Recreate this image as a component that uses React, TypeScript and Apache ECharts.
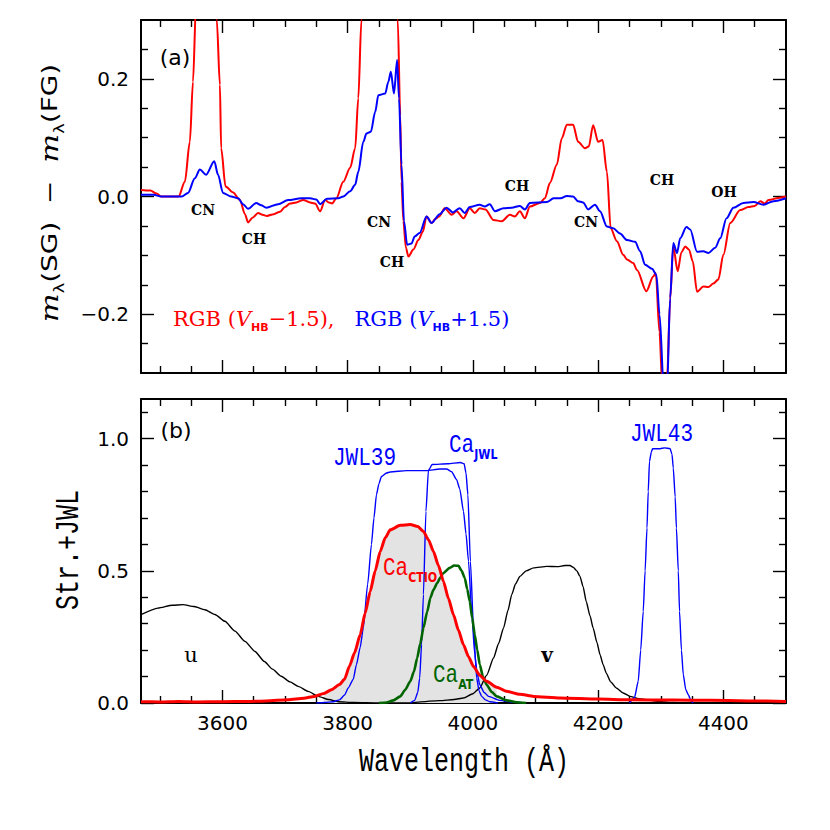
import React, { useEffect, useRef } from 'react';
import * as echarts from 'echarts';

// ---------------- axis ranges and ticks ----------------
const X_MIN = 3470;
const X_MAX = 4500;
const xMajorTicks = [3600, 3800, 4000, 4200, 4400];
const xMinorTicks = [3500, 3550, 3650, 3700, 3750, 3850, 3900, 3950, 4050, 4100, 4150, 4250, 4300, 4350, 4450];
const topYMajor = [-0.2, 0, 0.2];
const topYMinor = [-0.25, -0.15, -0.1, -0.05, 0.05, 0.1, 0.15, 0.25];
const botYMajor = [0, 0.5, 1.0];
const botYMinor = [0.1, 0.2, 0.3, 0.4, 0.6, 0.7, 0.8, 0.9, 1.1];

// ---------------- panel (a): magnitude differences ----------------
const redWl = [3470,3485,3495,3502,3530,3540,3548,3553,3558,3562,3575,3587,3591,3596,3598,3605,3617,3628,3636,3641,3648,3657,3664,3671,3682,3692,3700,3708,3718,3729,3740,3748,3756,3764,3770,3775,3782,3793,3804,3812,3817,3822,3826,3850,3875,3880,3884,3886,3889,3893,3897,3905,3913,3920,3926,3934,3940,3946,3955,3966,3974,3985,3995,4003,4011,4020,4033,4046,4059,4067,4075,4083,4091,4107,4115,4123,4134,4142,4150,4160,4168,4179,4185,4192,4200,4207,4214,4220,4230,4240,4246,4256,4262,4277,4288,4292,4298,4302,4306,4310,4315,4320,4327,4333,4339,4345,4351,4358,4368,4376,4384,4392,4400,4411,4427,4440,4450,4459,4466,4472,4490,4500];
const redMag = [0.011,0.010,0.005,0.0,0.0,0.025,0.093,0.195,0.33,0.45,0.55,0.45,0.30,0.19,0.082,0.017,0.007,-0.006,-0.03,-0.044,-0.036,-0.028,-0.031,-0.033,-0.03,-0.026,-0.018,-0.012,-0.01,-0.006,-0.01,-0.012,-0.025,-0.006,-0.01,-0.012,-0.003,0.025,0.049,0.082,0.167,0.30,0.45,0.6,0.45,0.30,0.138,0.025,-0.042,-0.087,-0.102,-0.09,-0.074,-0.06,-0.034,-0.045,-0.038,-0.034,-0.020,-0.031,-0.025,-0.037,-0.02,-0.028,-0.02,-0.022,-0.04,-0.042,-0.031,-0.034,-0.025,-0.037,-0.017,-0.011,-0.003,0.023,0.054,0.099,0.122,0.122,0.093,0.082,0.085,0.121,0.093,0.096,0.042,-0.054,-0.076,-0.099,-0.107,-0.113,-0.125,-0.161,-0.136,-0.13,-0.231,-0.31,-0.36,-0.31,-0.175,-0.085,-0.127,-0.095,-0.085,-0.09,-0.11,-0.162,-0.153,-0.154,-0.148,-0.141,-0.099,-0.045,-0.023,-0.018,-0.016,-0.008,-0.012,-0.006,-0.002,0.0];

const blueWl = [3470,3490,3502,3535,3545,3556,3564,3574,3587,3593,3601,3614,3625,3633,3641,3654,3662,3670,3689,3705,3726,3740,3750,3756,3767,3785,3793,3804,3812,3817,3825,3830,3837,3844,3849,3860,3865,3869,3874,3879,3882,3886,3890,3895,3902,3907,3915,3926,3934,3947,3958,3968,3979,3987,3995,4011,4019,4027,4035,4049,4062,4075,4083,4091,4118,4129,4140,4150,4160,4168,4176,4184,4195,4203,4214,4224,4235,4246,4259,4267,4275,4286,4293,4298,4305,4310,4315,4320,4326,4331,4341,4347,4358,4368,4376,4387,4395,4405,4416,4432,4448,4464,4480,4500];
const blueMag = [0.003,0.003,0.0,0.0,0.006,0.031,0.046,0.037,0.060,0.037,0.006,0.0,-0.003,-0.013,-0.021,-0.011,-0.015,-0.019,-0.013,-0.006,-0.003,-0.003,-0.005,-0.013,-0.004,-0.003,0.0,0.009,0.02,0.042,0.093,0.107,0.110,0.144,0.172,0.175,0.195,0.212,0.175,0.232,0.167,0.054,-0.042,-0.082,-0.080,-0.068,-0.062,-0.034,-0.045,-0.030,-0.019,-0.027,-0.020,-0.028,-0.018,-0.014,-0.017,-0.013,-0.025,-0.020,-0.019,-0.016,-0.022,-0.011,-0.0095,-0.003,-0.003,0.001,0.0,-0.008,-0.01,-0.022,-0.014,-0.025,-0.051,-0.054,-0.063,-0.074,-0.077,-0.093,-0.116,-0.123,-0.133,-0.2,-0.33,-0.33,-0.172,-0.079,-0.096,-0.071,-0.052,-0.056,-0.094,-0.093,-0.096,-0.087,-0.071,-0.037,-0.019,-0.011,-0.0095,-0.014,-0.008,-0.003];

// ---------------- panel (b): filter transmission curves ----------------
const uWl = [3470,3497,3520,3537,3555,3572,3588,3604,3620,3636,3652,3667,3680,3694,3708,3721,3737,3753,3770,3785,3810,3850,3900];
const uT = [0.334,0.359,0.37,0.372,0.365,0.353,0.335,0.309,0.272,0.233,0.195,0.157,0.128,0.101,0.08,0.063,0.044,0.025,0.013,0.005,0.002,0.0,0.0];

const vWl = [3900,3947,3970,3985,4000,4011,4022,4033,4041,4049,4056,4062,4068,4075,4085,4097,4118,4135,4147,4155,4160,4166,4171,4176,4181,4187,4192,4198,4203,4208,4213,4220,4229,4240,4251,4265,4283,4300,4320,4350];
const vT = [0.0,0.009,0.013,0.019,0.035,0.057,0.105,0.17,0.225,0.284,0.35,0.41,0.45,0.479,0.5,0.511,0.517,0.516,0.52,0.52,0.514,0.5,0.479,0.44,0.384,0.33,0.284,0.23,0.183,0.145,0.113,0.08,0.057,0.038,0.025,0.016,0.01,0.005,0.002,0.0];

const ctioWl = [3470,3500,3530,3560,3600,3640,3670,3705,3730,3747,3762,3774,3787,3795,3803,3811,3820,3828,3836,3844,3852,3860,3868,3884,3900,3912,3921,3929,3937,3945,3953,3961,3969,3977,3985,3993,4001,4011,4022,4038,4054,4075,4097,4139,4200,4250,4320,4378,4440,4500];
const ctioT = [0.005,0.004,0.006,0.004,0.005,0.006,0.008,0.012,0.018,0.025,0.036,0.05,0.07,0.09,0.14,0.19,0.258,0.34,0.422,0.5,0.573,0.625,0.655,0.672,0.675,0.668,0.649,0.618,0.573,0.52,0.46,0.395,0.334,0.275,0.22,0.175,0.138,0.105,0.082,0.06,0.044,0.033,0.025,0.019,0.015,0.012,0.011,0.01,0.008,0.006];
const ctioShadeRange = [3760, 4040];

const jwl39Wl = [3750,3763,3777,3787,3795,3801,3809,3814,3820,3825,3832,3838,3842,3846,3850,3854,3862,3868,3894,3926,3947,3958,3966,3974,3979,3985,3989,3993,3998,4003,4007,4011,4018,4025,4043,4060,4080];
const jwl39T = [0.0,0.002,0.005,0.012,0.03,0.057,0.09,0.145,0.21,0.284,0.45,0.6,0.7,0.788,0.83,0.857,0.87,0.874,0.879,0.879,0.885,0.885,0.875,0.845,0.81,0.725,0.64,0.536,0.346,0.183,0.11,0.069,0.04,0.025,0.01,0.004,0.0];

const caJwlWl = [3900,3907,3912,3915,3918,3921,3925,3929,3935,3960,3980,3986,3989,3992,3996,4001,4006,4010,4014,4020,4027,4040];
const caJwlT = [0.0,0.01,0.04,0.094,0.22,0.41,0.725,0.88,0.902,0.905,0.91,0.905,0.87,0.788,0.536,0.284,0.094,0.045,0.025,0.012,0.005,0.0];

const caAtWl = [3850,3862,3873,3884,3892,3900,3906,3911,3916,3921,3927,3932,3937,3943,3948,3953,3963,3970,3977,3982,3987,3991,3995,3999,4003,4007,4011,4016,4022,4030,4038,4054,4070,4085];
const caAtT = [0.0,0.002,0.01,0.025,0.05,0.082,0.12,0.17,0.225,0.284,0.345,0.397,0.428,0.454,0.475,0.492,0.511,0.52,0.519,0.5,0.473,0.43,0.384,0.32,0.258,0.2,0.145,0.1,0.069,0.042,0.025,0.01,0.003,0.0];

const jwl43Wl = [4250,4258,4264,4268,4272,4275,4278,4280,4282,4285,4287,4299,4306,4315,4318,4320,4323,4325,4328,4330,4333,4336,4340,4344,4349,4352];
const jwl43T = [0.0,0.02,0.082,0.2,0.346,0.5,0.662,0.8,0.914,0.95,0.962,0.962,0.965,0.962,0.94,0.889,0.78,0.662,0.5,0.346,0.2,0.107,0.05,0.031,0.005,0.0];

// ---------------- helpers ----------------
const pairs = (xs: number[], ys: number[]) => xs.map((x, i) => [x, ys[i]]);

const MAJOR = 13;
const MINOR = 7;
const lineOn = { show: true, onZero: false, lineStyle: { color: '#000', width: 2 } };
const lineOff = { show: false, onZero: false };
const tick = (vals: number[], len: number) => ({
  show: true, inside: true, length: len, customValues: vals,
  lineStyle: { color: '#000', width: 1.4 },
});
const labelStyle = {
  show: true, color: '#000', fontFamily: 'DejaVu Sans', fontSize: 20,
};
const fmtY = (v: number) => (v < -1e-9 ? '\u2212' : '') + Math.abs(v).toFixed(1);

function xAxesFor(g: number, showLabels: boolean) {
  const base = { type: 'value', gridIndex: g, min: X_MIN, max: X_MAX, splitLine: { show: false } };
  return [
    {
      ...base, position: 'bottom', axisLine: lineOn, axisTick: tick(xMajorTicks, MAJOR),
      axisLabel: showLabels
        ? { ...labelStyle, customValues: xMajorTicks, margin: 10, formatter: (v: number) => String(Math.round(v)) }
        : { show: false },
    },
    { ...base, position: 'bottom', axisLine: lineOff, axisTick: tick(xMinorTicks, MINOR), axisLabel: { show: false } },
    { ...base, position: 'top', axisLine: lineOn, axisTick: tick(xMajorTicks, MAJOR), axisLabel: { show: false } },
    { ...base, position: 'top', axisLine: lineOff, axisTick: tick(xMinorTicks, MINOR), axisLabel: { show: false } },
  ];
}

function yAxesFor(g: number, min: number, max: number, major: number[], minor: number[]) {
  const base = { type: 'value', gridIndex: g, min, max, splitLine: { show: false } };
  return [
    {
      ...base, position: 'left', axisLine: lineOn, axisTick: tick(major, MAJOR),
      axisLabel: { ...labelStyle, customValues: major, margin: 12, formatter: fmtY },
    },
    { ...base, position: 'left', axisLine: lineOff, axisTick: tick(minor, MINOR), axisLabel: { show: false } },
    { ...base, position: 'right', axisLine: lineOn, axisTick: tick(major, MAJOR), axisLabel: { show: false } },
    { ...base, position: 'right', axisLine: lineOff, axisTick: tick(minor, MINOR), axisLabel: { show: false } },
  ];
}

function line(xs: number[], ys: number[], color: string, width: number, grid: number, z: number, smooth: number) {
  return {
    type: 'line', xAxisIndex: grid * 4, yAxisIndex: grid * 4,
    data: pairs(xs, ys), symbol: 'none', showSymbol: false,
    smooth, smoothMonotone: 'x', clip: true, silent: true, z,
    lineStyle: { color, width }, itemStyle: { color },
  };
}

const txt = (x: number, y: number, text: string, style: any, extra: any = {}) => ({
  type: 'text', x, y, silent: true, z: 100,
  style: {
    text, fill: '#000', align: 'center', verticalAlign: 'middle',
    textAlign: 'center', textVerticalAlign: 'middle', ...style,
  },
  ...extra,
});

const featFont = { fontFamily: 'DejaVu Serif', fontWeight: 'bold', fontSize: 14 };
const monoFont = 'Liberation Mono';
const subStyle = (fill: string) => ({
  fill, fontFamily: 'DejaVu Sans', fontWeight: 'bold', fontSize: 11, lineHeight: 10, verticalAlign: 'bottom',
});

function buildOption() {
  const shadeIdx = ctioWl.map((w, i) => i).filter((i) => ctioWl[i] >= ctioShadeRange[0] && ctioWl[i] <= ctioShadeRange[1]);
  const shadeWl = shadeIdx.map((i) => ctioWl[i]);
  const shadeT = shadeIdx.map((i) => ctioT[i]);

  return {
    animation: false,
    backgroundColor: '#fff',
    grid: [
      { left: 141, top: 20, width: 645, height: 353 },
      { left: 141, top: 399, width: 645, height: 304 },
    ],
    xAxis: [...xAxesFor(0, false), ...xAxesFor(1, true)],
    yAxis: [
      ...yAxesFor(0, -0.3, 0.3, topYMajor, topYMinor),
      ...yAxesFor(1, 0, 1.15, botYMajor, botYMinor),
    ],
    series: [
      line(redWl, redMag, '#ff0000', 2, 0, 3, 0.3),
      line(blueWl, blueMag, '#0000ff', 2, 0, 4, 0.3),
      {
        type: 'line', xAxisIndex: 4, yAxisIndex: 4, data: pairs(shadeWl, shadeT),
        symbol: 'none', showSymbol: false, smooth: 0.2, smoothMonotone: 'x', silent: true, z: 1,
        lineStyle: { width: 0, opacity: 0 }, areaStyle: { color: '#e3e3e3', opacity: 1 },
      },
      line(uWl, uT, '#000000', 1.4, 1, 2, 0.2),
      line(vWl, vT, '#000000', 1.4, 1, 2, 0.2),
      line(jwl39Wl, jwl39T, '#0000ff', 1.4, 1, 3, 0.2),
      line(caJwlWl, caJwlT, '#0000ff', 1.4, 1, 3, 0.2),
      line(jwl43Wl, jwl43T, '#0000ff', 1.4, 1, 3, 0.2),
      line(caAtWl, caAtT, '#006400', 2.6, 1, 4, 0.2),
      line(ctioWl, ctioT, '#ff0000', 3, 1, 5, 0.2),
    ],
    graphic: [
      // panel labels
      txt(175, 57, '(a)', { fontFamily: 'DejaVu Sans', fontSize: 22 }),
      txt(176, 430, '(b)', { fontFamily: 'DejaVu Sans', fontSize: 22 }),
      // molecular band labels
      txt(203, 210, 'CN', featFont),
      txt(254, 239, 'CH', featFont),
      txt(379, 222, 'CN', featFont),
      txt(392, 262, 'CH', featFont),
      txt(517, 186, 'CH', featFont),
      txt(586, 222, 'CN', featFont),
      txt(662, 180, 'CH', featFont),
      txt(724, 192, 'OH', featFont),
      // legend of panel (a)
      txt(173, 319,
        '{r|RGB (}{ri|V}{rs|HB}{r|\u22121.5),   }{b|RGB (}{bi|V}{bs|HB}{b|+1.5)}',
        {
          align: 'left', textAlign: 'left',
          rich: {
            r: { fill: '#ff0000', fontFamily: 'DejaVu Serif', fontSize: 21, lineHeight: 27 },
            ri: { fill: '#ff0000', fontFamily: 'DejaVu Serif', fontStyle: 'italic', fontSize: 21, lineHeight: 27 },
            rs: subStyle('#ff0000'),
            b: { fill: '#0000ff', fontFamily: 'DejaVu Serif', fontSize: 21, lineHeight: 27 },
            bi: { fill: '#0000ff', fontFamily: 'DejaVu Serif', fontStyle: 'italic', fontSize: 21, lineHeight: 27 },
            bs: subStyle('#0000ff'),
          },
        }),
      // filter labels of panel (b)
      txt(191, 655, 'u', { fontFamily: 'DejaVu Serif', fontSize: 21 }),
      txt(547, 655, 'v', { fontFamily: 'DejaVu Serif', fontWeight: 'bold', fontSize: 20 }),
      txt(333, 458, 'JWL39', { align: 'left', textAlign: 'left', fill: '#0000ff', fontFamily: monoFont, fontSize: 21 }, { scaleY: 1.25 }),
      txt(630, 434, 'JWL43', { align: 'left', textAlign: 'left', fill: '#0000ff', fontFamily: monoFont, fontSize: 21 }, { scaleY: 1.25 }),
      txt(449, 445, '{m|Ca}{s|JWL}', {
        align: 'left', textAlign: 'left',
        rich: { m: { fill: '#0000ff', fontFamily: monoFont, fontSize: 21, lineHeight: 26 }, s: subStyle('#0000ff') },
      }, { scaleY: 1.25 }),
      txt(383, 568, '{m|Ca}{s|CTIO}', {
        align: 'left', textAlign: 'left',
        rich: { m: { fill: '#ff0000', fontFamily: monoFont, fontSize: 21, lineHeight: 26 }, s: subStyle('#ff0000') },
      }, { scaleY: 1.25 }),
      txt(433, 675, '{m|Ca}{s|AT}', {
        align: 'left', textAlign: 'left',
        rich: { m: { fill: '#006400', fontFamily: monoFont, fontSize: 21, lineHeight: 26 }, s: subStyle('#006400') },
      }, { scaleY: 1.25 }),
      // axis titles
      txt(50, 193, '{m|m}{l|\u03bb}{t|(SG)  \u2212  }{m|m}{l|\u03bb}{t|(FG)}', {
        rich: {
          m: { fontFamily: 'DejaVu Serif', fontStyle: 'italic', fontSize: 24, lineHeight: 32 },
          l: { fontFamily: 'DejaVu Sans', fontSize: 14, lineHeight: 20, verticalAlign: 'bottom' },
          t: { fontFamily: 'DejaVu Sans', fontSize: 22, lineHeight: 32 },
        },
      }, { rotation: Math.PI / 2, scaleX: 1.27 }),
      txt(70, 550, 'Str.+JWL', { fontFamily: monoFont, fontSize: 25 }, { rotation: Math.PI / 2, scaleY: 1.3 }),
      txt(464, 763, 'Wavelength (\u00c5)', { fontFamily: monoFont, fontSize: 25 }, { scaleY: 1.3 }),
    ],
  };
}

export default function App() {
  const ref = useRef<HTMLDivElement>(null);
  useEffect(() => {
    if (!ref.current) return;
    const chart = echarts.init(ref.current, null, { renderer: 'svg' });
    chart.setOption(buildOption() as any);
    return () => chart.dispose();
  }, []);
  return (
    <div
      ref={ref}
      style={{ position: 'absolute', left: 0, top: 0, width: 830, height: 830, background: '#fff' }}
    />
  );
}
